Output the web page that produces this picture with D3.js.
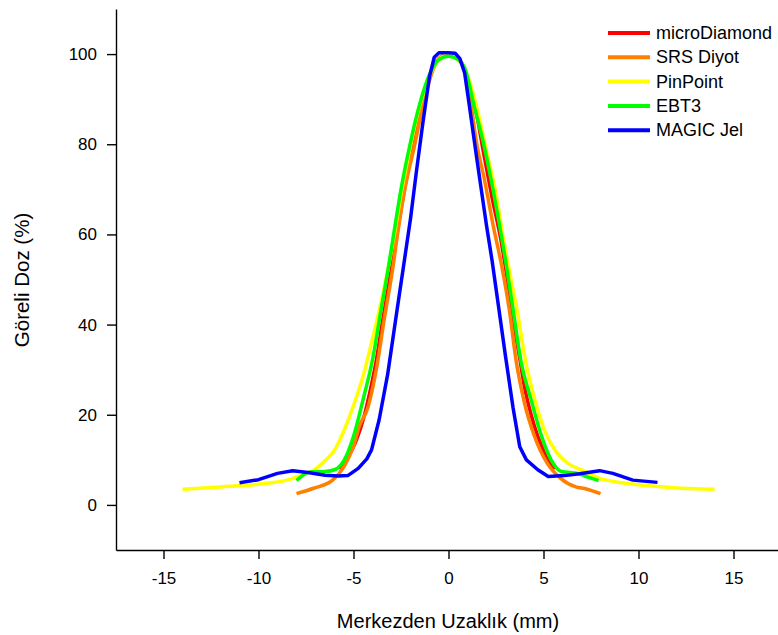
<!DOCTYPE html>
<html>
<head>
<meta charset="utf-8">
<script src="https://cdn.jsdelivr.net/npm/d3@7"></script>
<style>
  body { margin: 0; background: #fff; }
  text { font-family: "Liberation Sans", Arial, sans-serif; fill: #000; }
</style>
</head>
<body>
<script>
// profile data (distance in mm, relative dose in %)
let seriesNames = ["microDiamond", "SRS Diyot", "PinPoint", "EBT3", "MAGIC Jel"];
let seriesColors = ["#ff0000", "#ff8000", "#ffff00", "#00ff00", "#0000ff"];

let microDiamondX = [-5.7, -5.3, -4.85, -4.45, -4.15, -3.8, -3.5, -3.1, -2.75, -2.4, -1.95, -1.45, -0.95, -0.5, 0, 0.5, 0.95, 1.4, 1.85, 2.3, 2.75, 3.1, 3.45, 3.75, 4.0, 4.35, 4.7, 5.2, 5.6];
let microDiamondY = [7.8, 10.5, 14.4, 19.5, 24.8, 32, 40, 50, 59, 68, 78, 88.4, 95.5, 99, 100, 99, 95.5, 88.4, 78, 68, 59, 50, 40, 32.5, 26.2, 20, 15.2, 10.5, 8.0];

let srsX = [-8, -7.1, -6.1, -5.5, -5.0, -4.7, -4.25, -3.8, -3.35, -2.95, -2.65, -2.3, -1.8, -1.35, -0.9, -0.5, 0, 0.5, 0.9, 1.2, 1.45, 1.9, 2.35, 2.8, 3.2, 3.55, 4.0, 4.5, 5.2, 5.9, 6.7, 7.2, 8];
let srsY = [2.5, 3.7, 5.5, 8.5, 13, 17.4, 21.5, 30, 42, 52, 61, 70, 79.5, 88.4, 95.5, 99, 100, 99, 95.5, 88.4, 81, 72, 62, 53, 43.3, 32.2, 22.6, 15.5, 9.2, 5.9, 4.0, 3.6, 2.5];

let pinPointX = [-14, -12, -10, -8.5, -7.7, -7.0, -6.5, -5.95, -5.45, -5.0, -4.5, -4.05, -3.6, -3.2, -2.85, -2.5, -2.05, -1.55, -1.0, -0.5, 0, 0.5, 1.0, 1.5, 2.0, 2.5, 2.85, 3.2, 3.6, 4.1, 4.55, 5.05, 5.6, 6.3, 7.2, 8.0, 8.7, 10.4, 12.2, 14];
let pinPointY = [3.5, 4.0, 4.6, 5.5, 6.6, 8.0, 9.8, 12.5, 17, 22, 28.5, 36, 44, 52, 60, 69, 78.5, 88, 95.2, 98.8, 99.8, 98.8, 95.2, 88, 78.5, 69, 60, 52, 43.5, 31, 23.3, 16.6, 12.2, 9.2, 7.4, 5.8, 5.2, 4.3, 3.7, 3.5];

let ebt3X = [-8, -7.3, -6.5, -6.0, -5.4, -4.95, -4.5, -4.0, -3.55, -3.15, -2.85, -2.5, -2.05, -1.55, -1.0, -0.5, 0, 0.5, 0.85, 1.35, 1.8, 2.25, 2.7, 3.05, 3.4, 3.8, 4.35, 4.9, 5.4, 5.95, 6.8, 7.3, 7.9];
let ebt3Y = [5.4, 7.3, 7.4, 7.8, 10.7, 15.9, 23.3, 32.2, 43.3, 53, 61, 70, 79.5, 88.4, 95.5, 98.8, 99.5, 98.8, 97, 88.5, 81, 72, 61.7, 53, 43.3, 32.2, 23.3, 15.2, 10, 7.4, 7.0, 6.2, 5.4];

let magicX = [-11, -10, -9, -8.2, -7.4, -6.5, -5.8, -5.3, -4.75, -4.3, -4.05, -3.65, -3.2, -2.75, -2.4, -2.0, -1.7, -1.35, -1.0, -0.75, -0.5, 0, 0.35, 0.6, 0.85, 1.1, 1.5, 2.0, 2.3, 2.6, 3.0, 3.4, 3.75, 4.1, 4.7, 5.25, 6.1, 6.9, 7.95, 8.65, 9.7, 11];
let magicY = [4.9, 5.6, 7.0, 7.6, 7.2, 6.6, 6.4, 6.5, 8.1, 10.2, 12.2, 18.9, 29, 42, 52, 63.5, 73.6, 84.7, 95, 99.3, 100.3, 100.3, 100.2, 99, 95.8, 88.5, 76.5, 62, 54, 45, 33, 21.5, 12.9, 10, 7.8, 6.3, 6.5, 6.9, 7.6, 7.0, 5.5, 5.0];

let xMajorTicks = [-15, -10, -5, 0, 5, 10, 15];
let xMinorTicks = [-17.5, -12.5, -7.5, -2.5, 2.5, 7.5, 12.5, 17.5];
let yMajorTicks = [0, 20, 40, 60, 80, 100];
let yMinorTicks = [-10, 10, 30, 50, 70, 90, 110];

let xs = [microDiamondX, srsX, pinPointX, ebt3X, magicX];
let ys = [microDiamondY, srsY, pinPointY, ebt3Y, magicY];

let width = 778, height = 635;

let svg = d3.select("body").append("svg")
    .attr("width", width)
    .attr("height", height);

let x = d3.scaleLinear().domain([-17.5, 17.5]).range([116, 781]);
let y = d3.scaleLinear().domain([-10, 110]).range([550, 9]);

// curves
let lineGen = d3.line()
    .x(d => x(d[0]))
    .y(d => y(d[1]));

let g = svg.append("g").attr("class", "series");
seriesNames.forEach((name, i) => {
    let pts = xs[i].map((v, j) => [v, ys[i][j]]);
    g.append("path")
        .datum(pts)
        .attr("fill", "none")
        .attr("stroke", seriesColors[i])
        .attr("stroke-width", 3.5)
        .attr("stroke-linejoin", "round")
        .attr("d", lineGen.curve(i === 4 ? d3.curveLinear : d3.curveMonotoneX));
});

// axes (hyphen minus like the original, not the unicode minus)
let fmt = d => String(d);

let yAxis = svg.append("g").attr("transform", `translate(${x(-17.5)},0)`);
yAxis.call(d3.axisLeft(y).tickValues(yMinorTicks).tickSize(5).tickSizeOuter(0).tickFormat(""));
yAxis.call(d3.axisLeft(y).tickValues(yMajorTicks).tickSize(9).tickSizeOuter(0).tickPadding(10).tickFormat(fmt));

let xAxis = svg.append("g").attr("transform", `translate(0,${y(-10)})`);
xAxis.call(d3.axisBottom(x).tickValues(xMinorTicks).tickSize(5).tickSizeOuter(0).tickFormat(""));
xAxis.call(d3.axisBottom(x).tickValues(xMajorTicks).tickSize(9).tickSizeOuter(0).tickPadding(13).tickFormat(fmt));

svg.selectAll(".domain").attr("stroke", "#000").attr("stroke-width", 1.4);
svg.selectAll(".tick line").attr("stroke", "#000").attr("stroke-width", 1.4);
svg.selectAll(".tick text")
    .style("font-family", "'Liberation Sans', Arial, sans-serif")
    .style("font-size", "17px")
    .attr("fill", "#000");

// axis titles
svg.append("text")
    .attr("x", 448)
    .attr("y", 628)
    .attr("text-anchor", "middle")
    .style("font-size", "20px")
    .text("Merkezden Uzaklık (mm)");

svg.append("text")
    .attr("transform", "translate(29,280) rotate(-90)")
    .attr("text-anchor", "middle")
    .style("font-size", "20.5px")
    .text("Göreli Doz (%)");

// legend
let legend = svg.append("g").attr("class", "legend");
seriesNames.forEach((name, i) => {
    let ly = 33 + i * 24.3;
    legend.append("line")
        .attr("x1", 608).attr("x2", 650)
        .attr("y1", ly).attr("y2", ly)
        .attr("stroke", seriesColors[i])
        .attr("stroke-width", 4);
    legend.append("text")
        .attr("x", 656)
        .attr("y", ly + 6)
        .style("font-size", "18px")
        .text(name);
});
</script>
</body>
</html>
